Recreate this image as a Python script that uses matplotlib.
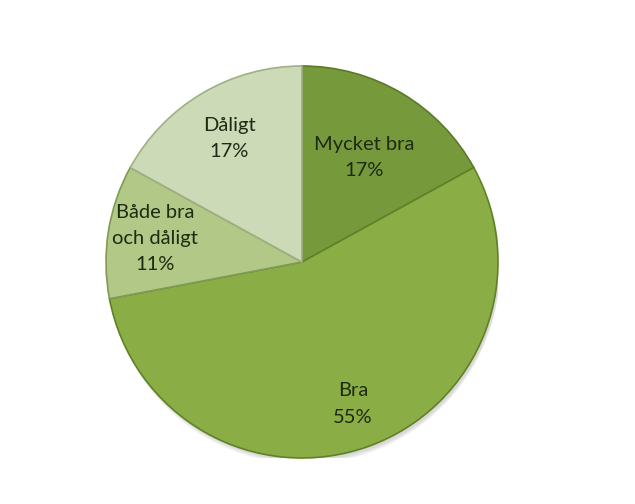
import numpy as np
import matplotlib
matplotlib.use('Agg')
from matplotlib import pyplot as plt

# data
categorias = ['Mycket bra', 'Bra', 'Både bra\noch dåligt', 'Dåligt']
valores = [17, 55, 11, 17]
colores = ['#769a3b', '#8bad46', '#b1c887', '#cddab7']
bordes = ['#5b7a28', '#5f8226', '#7f9a55', '#9fb083']
dist_etiqueta = [0.62, 0.77, 0.76, 0.73]

plt.rcParams['font.family'] = ['Lato', 'DejaVu Sans']

fig = plt.figure(figsize=(6.35, 5.04), dpi=100)
ax = fig.add_axes([106 / 635, 46 / 504, 392 / 635, 392 / 504])

# sombra suave debajo del pastel
for i, a in enumerate([0.05, 0.05, 0.05]):
    sombra = plt.Circle((0.01, -0.015 - 0.008 * i), 1.0, color='black', alpha=a,
                        zorder=0, linewidth=0)
    ax.add_patch(sombra)

wedges, _ = ax.pie(valores, colors=colores, startangle=90, counterclock=False,
                   radius=1, wedgeprops=dict(linewidth=1.2, edgecolor='#6e8c3a'))
for w, b in zip(wedges, bordes):
    w.set_edgecolor(b)
    w.set_zorder(2)

# etiquetas dentro de cada porcion
for w, cat, val, d in zip(wedges, categorias, valores, dist_etiqueta):
    ang = np.deg2rad((w.theta1 + w.theta2) / 2)
    x, y = d * np.cos(ang), d * np.sin(ang)
    ax.text(x, y, f'{cat}\n{val}%', ha='center', va='center', zorder=3,
            fontsize=14.5, color='#1e2a12', linespacing=1.65)

ax.set_xlim(-1, 1)
ax.set_ylim(-1, 1)
ax.axis('off')

fig.savefig('out.png', dpi=100)
